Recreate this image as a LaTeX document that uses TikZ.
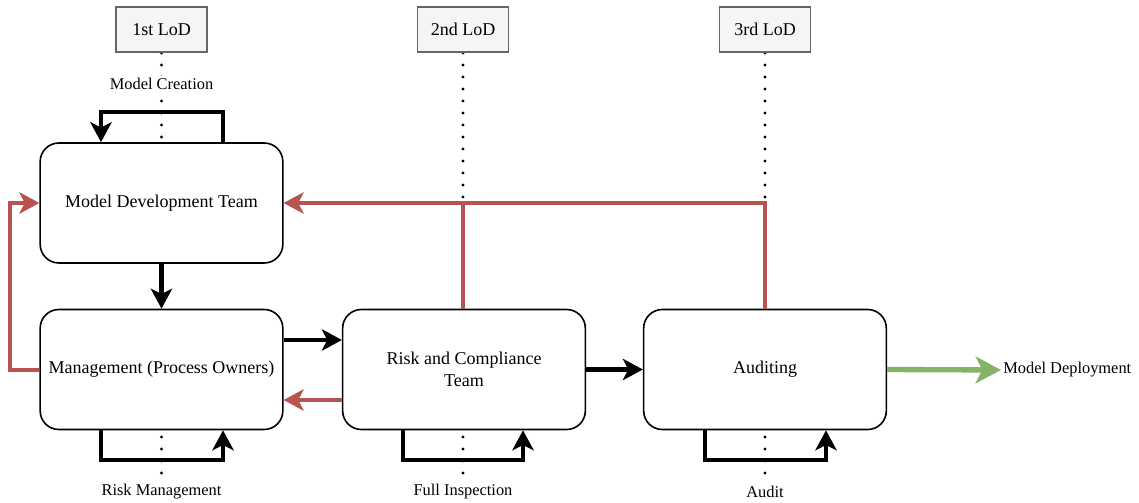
\documentclass[tikz,border=0pt]{standalone}
\usepackage{fontspec}
\setmainfont{Liberation Serif}
\usetikzlibrary{arrows.meta,backgrounds}
\definecolor{redline}{RGB}{184,84,80}
\definecolor{greenline}{RGB}{130,179,102}
\definecolor{lodfill}{RGB}{245,245,245}
\definecolor{lodline}{RGB}{102,102,102}
\tikzset{
 box/.style={draw, rounded corners=14pt, line width=1.2pt, fill=white, minimum width=182pt, minimum height=90pt, align=center, font=\fontsize{13.5}{16}\selectfont, inner sep=0pt},
 lod/.style={draw=lodline, fill=lodfill, line width=1.2pt, minimum width=68pt, minimum height=34pt, font=\fontsize{13.5}{16}\selectfont},
 lbl/.style={fill=white, font=\fontsize{12.3}{14}\selectfont, inner sep=1.5pt},
 dots/.style={line width=2.5pt, dash pattern=on 0pt off 9pt, line cap=round},
 blk/.style={line width=3.3pt, -{Stealth[length=15pt,width=16pt,inset=4pt]}},
 redl/.style={line width=3pt, draw=redline},
 redarr/.style={redl, -{Stealth[length=15pt,width=16pt,inset=4pt]}},
 greenarr/.style={line width=4pt, draw=greenline, -{Stealth[length=19pt,width=20pt,inset=5pt]}},
}
\begin{document}
\begin{tikzpicture}[x=0.75pt,y=-0.75pt]
\useasboundingbox (0,0) rectangle (1139,503);
\node[lod] (l1) at (161.5,29.5) {1st LoD};
\node[lod] (l2) at (463,29.5) {2nd LoD};
\node[lod] (l3) at (765,29.5) {3rd LoD};
\node[box] (mdt) at (161.5,203) {Model Development Team};
\node[box] (mgmt) at (161.5,369.5) {Management (Process Owners)};
\node[box] (risk) at (464,369.5) {Risk and Compliance\\Team};
\node[box] (aud) at (765,369.5) {Auditing};
\node[lbl] (mc) at (161.5,84) {Model Creation};
\node[lbl] (rm) at (161.5,492) {Risk Management};
\node[lbl] (fi) at (463,492) {Full Inspection};
\node[lbl] (au) at (765,492) {Audit};
\node[anchor=west, font=\fontsize{12.3}{14}\selectfont, inner sep=1.5pt] (dep) at (1001,370) {Model Deployment};
\begin{pgfonlayer}{background}
\draw[dots] (l1.south) -- (rm.north);
\draw[dots] (l2.south) -- (fi.north);
\draw[dots] (l3.south) -- (au.north);
\end{pgfonlayer}
% red feedback
\draw[redl] (risk.north -| 463,0) -- (463,203);
\draw[redarr] (aud.north) |- (mdt.east);
\draw[redarr] (mgmt.west) -- (10,369.5) |- (mdt.west);
\draw[redarr] (risk.west |- 0,400) -- (mgmt.east |- 0,400);
% black flow
\draw[blk] (mdt.south) -- (mgmt.north);
\draw[blk] (mgmt.east |- 0,340) -- (risk.west |- 0,340);
\draw[blk] (risk.east) -- (aud.west);
% loops
\draw[blk] (mdt.north -| 223,0) -- (223,112) -- (101,112) -- (mdt.north -| 101,0);
\draw[blk] (mgmt.south -| 101,0) -- (101,460) -- (223,460) -- (mgmt.south -| 223,0);
\draw[blk] (risk.south -| 403,0) -- (403,460) -- (523,460) -- (risk.south -| 523,0);
\draw[blk] (aud.south -| 705,0) -- (705,460) -- (826,460) -- (aud.south -| 826,0);
% deployment
\draw[greenarr] (aud.east) -- (dep.west);
\end{tikzpicture}
\end{document}
